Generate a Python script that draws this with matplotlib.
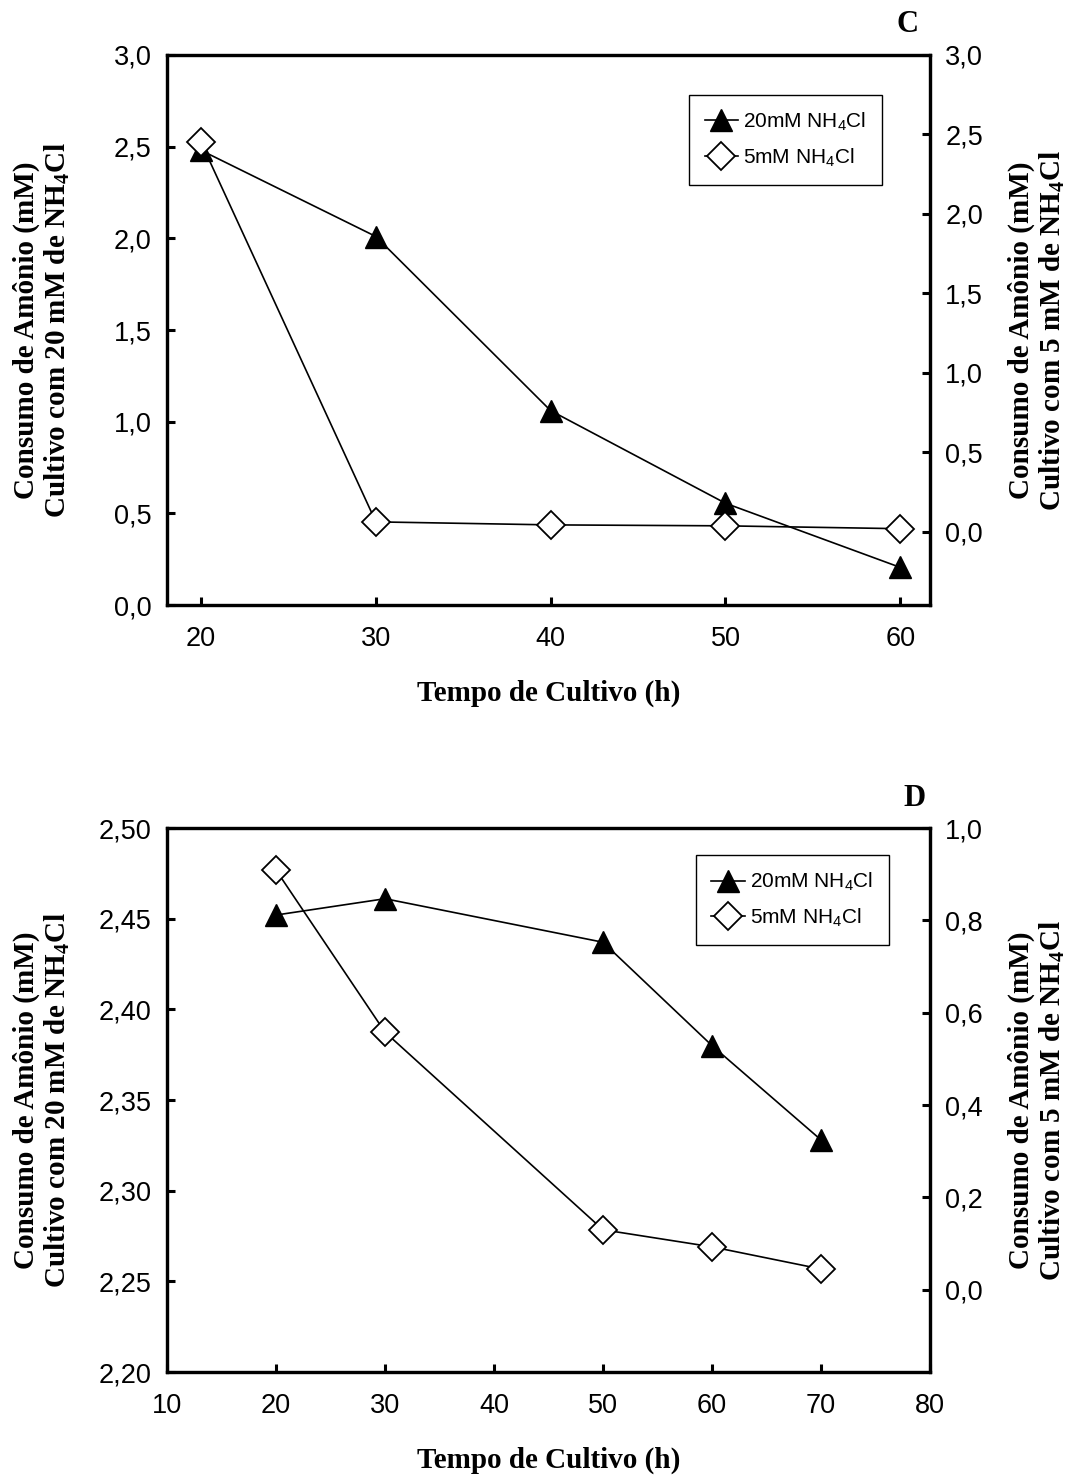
import matplotlib
matplotlib.use("Agg")
import matplotlib.pyplot as plt
from matplotlib.ticker import FuncFormatter, FixedLocator
from matplotlib.lines import Line2D

plt.rcParams['mathtext.default'] = 'regular'

# ---------------- data ----------------
# Panel C
c_time = [20, 30, 40, 50, 60]
c_20mM = [2.48, 2.01, 1.06, 0.555, 0.205]
c_5mM = [2.45, 0.063, 0.044, 0.038, 0.020]
c_xticks = [20, 30, 40, 50, 60]
c_left_ticks = [0.0, 0.5, 1.0, 1.5, 2.0, 2.5, 3.0]
c_right_ticks = [0.0, 0.5, 1.0, 1.5, 2.0, 2.5, 3.0]

# Panel D
d_time = [20, 30, 50, 60, 70]
d_20mM = [2.452, 2.461, 2.437, 2.380, 2.328]
d_5mM = [0.909, 0.558, 0.130, 0.093, 0.045]
d_xticks = [10, 20, 30, 40, 50, 60, 70, 80]
d_left_ticks = [2.20, 2.25, 2.30, 2.35, 2.40, 2.45, 2.50]
d_right_ticks = [0.0, 0.2, 0.4, 0.6, 0.8, 1.0]

series_labels = ['20mM NH$_4$Cl', '5mM NH$_4$Cl']
xlabel = 'Tempo de Cultivo (h)'
ylabel_left = 'Consumo de Amônio (mM)\nCultivo com 20 mM de NH$_4$Cl'
ylabel_right = 'Consumo de Amônio (mM)\nCultivo com 5 mM de NH$_4$Cl'

SANS = 'Liberation Sans'
SERIF = 'Liberation Serif'

W, H = 1085, 1477
fig = plt.figure(figsize=(W / 100, H / 100), dpi=100)


def fmt(decimals):
    return FuncFormatter(lambda v, p: f"{v:.{decimals}f}".replace('.', ','))


def style_axis(ax):
    for s in ax.spines.values():
        s.set_linewidth(2.3)
    ax.tick_params(direction='in', length=6, width=2.2, labelsize=19.5, pad=11)
    ax.tick_params(axis='x', pad=15)
    for lab in ax.get_xticklabels() + ax.get_yticklabels():
        lab.set_fontfamily(SANS)


def make_panel(rect_px, x, y1, y2, xlim, xticks, ylim1, yticks1, dec1,
               ylim2, yticks2, dec2, legend_anchor, letter, letter_pos):
    x0, y0, x1, y1px = rect_px
    ax = fig.add_axes([x0 / W, 1 - y1px / H, (x1 - x0) / W, (y1px - y0) / H])
    ax2 = ax.twinx()
    ax.plot(x, y1, color='black', lw=1.2, marker='^', ms=16,
            mfc='black', mec='black', zorder=3)
    ax2.plot(x, y2, color='black', lw=1.2, marker='D', ms=14,
             mfc='white', mec='black', mew=1.3, zorder=3)
    ax.set_xlim(*xlim)
    ax.xaxis.set_major_locator(FixedLocator(xticks))
    ax.xaxis.set_major_formatter(FuncFormatter(lambda v, p: f"{v:.0f}"))
    ax.set_ylim(*ylim1)
    ax.yaxis.set_major_locator(FixedLocator(yticks1))
    ax.yaxis.set_major_formatter(fmt(dec1))
    ax2.set_ylim(*ylim2)
    ax2.yaxis.set_major_locator(FixedLocator(yticks2))
    ax2.yaxis.set_major_formatter(fmt(dec2))
    style_axis(ax)
    style_axis(ax2)
    h1 = Line2D([], [], color='black', lw=1.2, marker='^', ms=16, mfc='black', mec='black')
    h2 = Line2D([], [], color='black', lw=1.2, marker='D', ms=14, mfc='white', mec='black', mew=1.3)
    leg = ax2.legend([h1, h2], series_labels, loc='upper left',
                     bbox_to_anchor=legend_anchor, borderaxespad=0,
                     frameon=True, fancybox=False, handlelength=1.6,
                     handletextpad=0.25, borderpad=0.75, labelspacing=0.65,
                     prop={'family': SANS, 'size': 15})
    leg.get_frame().set_edgecolor('black')
    leg.get_frame().set_linewidth(1.0)
    leg.get_frame().set_alpha(1)
    # axis titles
    cx = (x0 + x1) / 2
    cy = (y0 + y1px) / 2
    fig.text(cx / W, 1 - (y1px + 88) / H, xlabel, ha='center', va='center',
             fontfamily=SERIF, fontweight='bold', fontsize=21)
    fig.text(42 / W, 1 - cy / H, ylabel_left, rotation=90, ha='center', va='center',
             multialignment='center', fontfamily=SERIF, fontweight='bold',
             fontsize=21, linespacing=1.12)
    fig.text(1037 / W, 1 - cy / H, ylabel_right, rotation=90, ha='center', va='center',
             multialignment='center', fontfamily=SERIF, fontweight='bold',
             fontsize=21, linespacing=1.12)
    fig.text(letter_pos[0] / W, 1 - letter_pos[1] / H, letter, ha='center', va='center',
             fontfamily=SERIF, fontweight='bold', fontsize=22)
    return ax, ax2


make_panel((167, 55, 930, 605), c_time, c_20mM, c_5mM, (18.05, 61.7), c_xticks,
           (0.0, 3.0), c_left_ticks, 1, (-0.46, 3.0), c_right_ticks, 1,
           (0.684, 0.927), 'C', (908, 25))

make_panel((167, 828, 930, 1372), d_time, d_20mM, d_5mM, (10, 80), d_xticks,
           (2.20, 2.50), d_left_ticks, 2, (-0.178, 1.0), d_right_ticks, 1,
           (0.693, 0.950), 'D', (915, 798))

fig.savefig('out.png', dpi=100)
